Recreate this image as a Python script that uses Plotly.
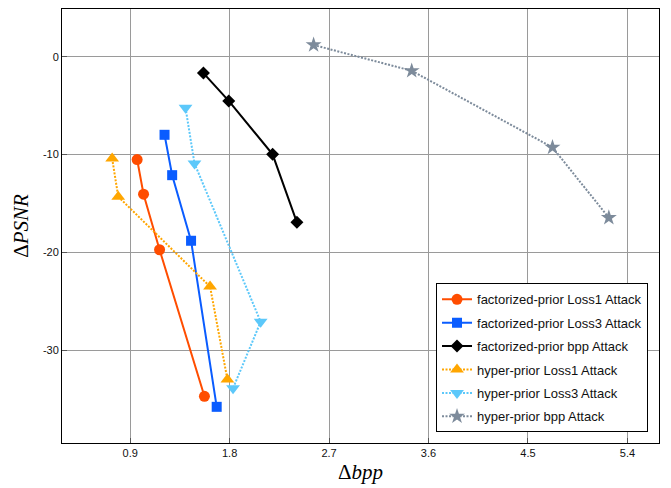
import plotly.graph_objects as go

x_ticks = [0.9, 1.8, 2.7, 3.6, 4.5, 5.4]
x_ticktext = ["0.9", "1.8", "2.7", "3.6", "4.5", "5.4"]
y_ticks = [0, -10, -20, -30]
y_ticktext = ["0", "-10", "-20", "-30"]

fp_loss1_x = [0.963, 1.021, 1.166, 1.572]
fp_loss1_y = [-10.5, -14.05, -19.73, -34.72]
fp_loss3_x = [1.211, 1.280, 1.451, 1.683]
fp_loss3_y = [-7.97, -12.10, -18.81, -35.8]
fp_bpp_x = [1.563, 1.792, 2.189, 2.409]
fp_bpp_y = [-1.66, -4.50, -9.97, -16.92]
hp_loss1_x = [0.737, 0.792, 1.623, 1.780]
hp_loss1_y = [-10.4, -14.3, -23.5, -33.0]
hp_loss3_x = [1.401, 1.482, 2.081, 1.831]
hp_loss3_y = [-5.2, -10.9, -27.1, -33.9]
hp_bpp_x = [2.560, 3.448, 4.722, 5.232]
hp_bpp_y = [1.22, -1.42, -9.26, -16.45]

series = [
    ("factorized-prior Loss1 Attack", fp_loss1_x, fp_loss1_y, "#FF4D00", "solid", "circle", 11),
    ("factorized-prior Loss3 Attack", fp_loss3_x, fp_loss3_y, "#0A5CFF", "solid", "square", 10),
    ("factorized-prior bpp Attack", fp_bpp_x, fp_bpp_y, "#000000", "solid", "diamond", 10),
    ("hyper-prior Loss1 Attack", hp_loss1_x, hp_loss1_y, "#FFA600", "2px,1.5px", "triangle-up", 12),
    ("hyper-prior Loss3 Attack", hp_loss3_x, hp_loss3_y, "#5CC8FA", "2px,1.5px", "triangle-down", 12),
    ("hyper-prior bpp Attack", hp_bpp_x, hp_bpp_y, "#7D8B9B", "2px,1.5px", "star", 12),
]

fig = go.Figure()
for i, (name, xs, ys, col, dash, sym, size) in enumerate(series):
    fig.add_trace(go.Scatter(
        x=xs, y=ys, name=name, mode="lines+markers",
        line=dict(color=col, width=2, dash=dash),
        marker=dict(color=col, symbol=sym, size=size, line=dict(width=0)),
        legendgroup=f"g{i}",
    ))

axis_common = dict(
    showgrid=True, gridcolor="#9a9a9a", gridwidth=1,
    showline=True, linecolor="black", linewidth=1, mirror=True,
    ticks="inside", ticklen=5, tickcolor="#555555",
    zeroline=False,
    tickfont=dict(family="Liberation Sans, Arial, sans-serif", size=11, color="#111111"),
)

fig.update_layout(
    width=671, height=488,
    margin=dict(l=62, r=12, t=8, b=42),
    paper_bgcolor="white", plot_bgcolor="white",
    xaxis=dict(range=[0.283, 5.686], tickvals=x_ticks, ticktext=x_ticktext,
               title=dict(text="Δ<i>bpp</i>", font=dict(family="Liberation Serif, Times New Roman, serif", size=21, color="black"), standoff=6),
               **axis_common),
    yaxis=dict(range=[-39.5, 4.9], tickvals=y_ticks, ticktext=y_ticktext,
               title=dict(text="Δ<i>PSNR</i>", font=dict(family="Liberation Serif, Times New Roman, serif", size=21, color="black"), standoff=8),
               **axis_common),
    legend=dict(
        x=0.9816, y=0.0245, xanchor="right", yanchor="bottom",
        bgcolor="white", bordercolor="black", borderwidth=1,
        font=dict(family="Liberation Sans, Arial, sans-serif", size=13, color="#111111"),
        traceorder="grouped", tracegroupgap=3.5,
    ),
    showlegend=True,
)

fig.write_html("out.html")
